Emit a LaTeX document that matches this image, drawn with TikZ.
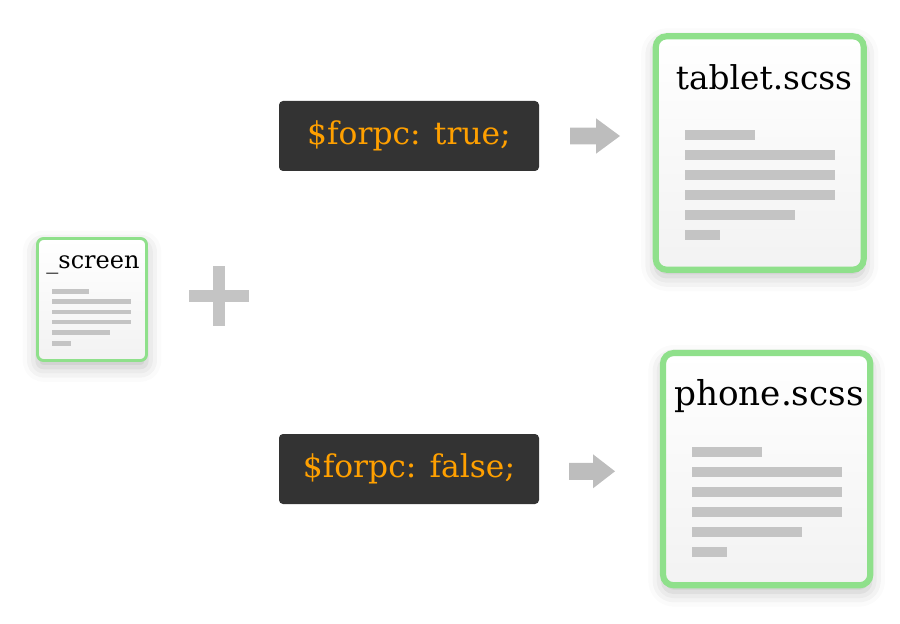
\documentclass[tikz,border=0pt]{standalone}
\usepackage{fontspec}
\setmainfont{DejaVu Serif}
\usetikzlibrary{shadows.blur, positioning}
\definecolor{filegreen}{HTML}{8FE08B}
\definecolor{codedark}{HTML}{333333}
\definecolor{codeorange}{HTML}{FFA000}
\definecolor{bargray}{HTML}{C4C4C4}
\definecolor{arrowgray}{HTML}{BDBDBD}

\begin{document}
\begin{tikzpicture}[x=0.75pt, y=-0.75pt]
\tikzstyle{every node}+=[inner sep=0pt]
\tikzstyle{filebox}=[draw=filegreen, top color=white, bottom color=black!5,
  blur shadow={shadow xshift=0pt, shadow yshift=-5pt, shadow blur radius=11pt, shadow opacity=25}]
\tikzstyle{codebox}=[fill=codedark, rounded corners=3pt, text=codeorange,
  minimum width=195pt, minimum height=52.5pt, font=\fontsize{23.5}{26}\selectfont]
\useasboundingbox (0,0) rectangle (900,624);
% source file
\draw [filebox, line width=2.2pt, rounded corners=4.5pt] (37.5,238.5) rectangle (146.5,360.5);
\node (screen) at (93,264.5) {\fontsize{18}{20}\selectfont \_screen};
\fill [bargray] (52,289.3) rectangle (89,293.6);
\fill [bargray] (52,299.4) rectangle (131,303.7);
\fill [bargray] (52,309.6) rectangle (131,313.9);
\fill [bargray] (52,319.8) rectangle (131,324.1);
\fill [bargray] (52,330.2) rectangle (110,334.5);
\fill [bargray] (52,341.2) rectangle (71,345.5);
% plus
\fill [bargray] (213,266) rectangle (225,326);
\fill [bargray] (189,290) rectangle (249,302);
% code boxes
\node [codebox] (forpctrue) at (409,136) {\$forpc: true;};
\node [codebox] (forpcfalse) at (409,469) {\$forpc: false;};
% arrows
\fill [arrowgray] (570,127.7) -- (596,127.7) -- (596,118.3) -- (620,136)
  -- (596,153.7) -- (596,144.3) -- (570,144.3) -- cycle;
\fill [arrowgray] (569,462.8) -- (593,462.8) -- (593,454.3) -- (615,471.3)
  -- (593,488.3) -- (593,479.8) -- (569,479.8) -- cycle;
% tablet.scss
\draw [filebox, line width=4.6pt, rounded corners=8pt] (655.8,36.3) rectangle (863.7,269.7);
\node (tablet) at (764,77) {\fontsize{24.6}{28}\selectfont tablet.scss};
\fill [bargray] (685,130) rectangle (755,140);
\fill [bargray] (685,150) rectangle (835,160);
\fill [bargray] (685,170) rectangle (835,180);
\fill [bargray] (685,190) rectangle (835,200);
\fill [bargray] (685,210) rectangle (795,220);
\fill [bargray] (685,230) rectangle (720,240);
% phone.scss
\draw [filebox, line width=4.6pt, rounded corners=8pt] (663,353) rectangle (870.3,585.3);
\node (phone) at (769,396) {\fontsize{25.7}{30}\selectfont phone.scss};
\fill [bargray] (691.7,447.3) rectangle (761.7,456.8);
\fill [bargray] (691.7,467.3) rectangle (841.7,476.8);
\fill [bargray] (691.7,487.3) rectangle (841.7,496.8);
\fill [bargray] (691.7,507.3) rectangle (841.7,516.8);
\fill [bargray] (691.7,527.3) rectangle (801.7,536.8);
\fill [bargray] (691.7,547.3) rectangle (726.7,556.8);
\end{tikzpicture}
\end{document}
